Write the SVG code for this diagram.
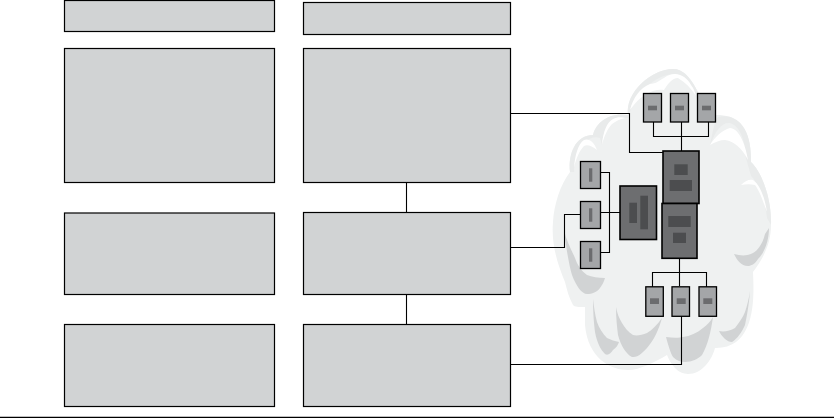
<svg xmlns="http://www.w3.org/2000/svg" width="834" height="418" viewBox="0 0 834 418">
<style>
.b{fill:#d1d3d4;stroke:#000;stroke-width:1.2}
.c{fill:none;stroke:#000;stroke-width:1.1}
.s{fill:#a4a6a8;stroke:#000;stroke-width:1.3}
.l{fill:#6d6e70;stroke:#000;stroke-width:1.6}
.si{fill:#6b6c6e}
.li{fill:#4c4d4f}
.cd{fill:#d1d3d4}
.cw{fill:#fff}
.cr{fill:#e9ebeb}
</style>
<rect width="834" height="418" fill="#fff"/>
<g id="cloud">
<path fill="#eff1f1" d="M628 115C625 92 652 69 673 69C692 69 701 100 708 116C725 113 752 115 751 162C762 172 772 200 771 225C771 245 762 260 753 272C754 295 757 349 715 348C712 360 702 374 688 374C678 374 671 365 667 355C655 362 640 370 628 370C610 370 588 358 585 325L585 307C578 307 575 307 573 305C569 298 567 290 565 282C558 265 551 245 553 222C554 205 560 185 570 172C568 155 575 135 593 135C596 122 610 112 628 115Z"/>
<path class="cr" d="M628 115C625 92 652 69 673 69C692 69 701 100 708 116L701 110C695 92 688 76 674 74C660 74 638 88 630 112Z"/>
<path class="cr" d="M570 172C568 155 575 135 593 135C596 122 610 112 628 115L628 118C615 115 603 125 602 145L600 138C590 134 575 145 574 172Z"/>
<path class="cr" d="M710 145C713 130 715 120 718 117C735 113 752 125 751 162C762 172 772 200 771 225L767 218C765 200 758 183 751 176L746 158C745 140 740 126 730 123C722 122 716 130 710 145Z"/>
<path class="cw" d="M574 168C575 155 578 144 584 140C589 138 594 142 597 150C592 146 587 144 584 146C580 150 576 158 574 168Z"/>
<path class="cw" d="M602 145C603 132 607 122 613 119C617 117 621 117 625 118C620 119 616 121 612 124C608 128 604 136 602 145Z"/>
<path class="cw" d="M630 110C633 98 640 88 650 84C656 84 660 80 664 78C668 75 671 74 675 74C682 74 688 79 691 85C694 89 695 92 696 96C691 88 685 82 678 78C672 78 668 84 664 90C654 88 640 95 630 110Z"/>
<path class="cw" d="M710 145C715 137 722 130 730 128C738 128 745 142 748 160C743 150 735 141 725 140C720 140 715 142 710 145Z"/>
<path class="cw" d="M741 185C745 181 749 179 753 180C760 185 765 198 767 212C763 201 759 190 755 185C751 184 746 184 741 185Z"/>
<path class="cd" d="M769 228C769 240 765 252 758 259C755 264 751 266 748 266C741 266 737 260 734 254C741 256 748 256 753 253C758 250 763 243 765 234Z"/>
<path class="cd" d="M564 230C566 247 569 265 572 275C576 286 582 294 587 294C592 294 597 292 600 288C602 285 604 282 605 278C598 278 592 277 587 275C581 271 577 264 575 258C571 249 566 240 564 230Z"/>
<path class="cd" d="M593 299C593 312 594 324 595 332C597 343 601 350 605 354C608 356 611 353 613 350C616 348 618 345 619 342C615 341 611 340 607 338C603 334 599 328 597 322C595 315 594 307 593 299Z"/>
<path class="cd" d="M616 307C616 318 617 327 618 335C621 346 626 354 632 357C638 358 643 352 647 348C654 340 659 329 662 318C657 325 652 330 647 333C642 335 637 336 633 335C628 332 625 328 622 323C619 318 617 313 616 307Z"/>
<path class="cd" d="M666 337C668 344 670 352 673 357C677 361 681 362 685 362C692 362 698 359 702 355C708 345 711 331 713 317C710 322 707 325 703 328C697 333 690 336 683 337C679 338 673 338 666 337Z"/>
<path class="cd" d="M750 291C749 304 747 316 745 325C742 332 737 339 732 342C727 342 722 337 719 331C724 332 730 331 735 328C739 323 743 317 745 312C747 306 749 298 750 291Z"/>
</g>
<g id="connectors">
<path class="c" d="M511 113.500H629.500V152.500H663M406.500 183V212M511 247.500H564.500V214.500H581M406.500 295V324M511 364.500H681.500V316M653.500 122V136.500H708.500V122M681.500 122V151M601 172.500H609.500V252.500H601M601 212.500H620M679.500 258V286M652.500 287V272.500H706.500V287"/>
</g>
<g id="box1"><rect class="b" x="64.500" y="0.500" width="210" height="31"/></g>
<g id="box2"><rect class="b" x="303.500" y="2.500" width="207" height="32"/></g>
<g id="box3"><rect class="b" x="64.500" y="48.500" width="210" height="134"/></g>
<g id="box4"><rect class="b" x="303.500" y="48.500" width="207" height="134"/></g>
<g id="box5"><rect class="b" x="64.500" y="213" width="210" height="81.500"/></g>
<g id="box6"><rect class="b" x="303.500" y="212.500" width="207" height="82"/></g>
<g id="box7"><rect class="b" x="64.500" y="324.500" width="210" height="82"/></g>
<g id="box8"><rect class="b" x="303.500" y="324.500" width="207" height="82"/></g>
<g id="top-servers">
<g id="t1"><rect class="s" x="643.500" y="93.500" width="18" height="28.500"/><rect class="si" x="648" y="105.700" width="9" height="4.600"/></g>
<g id="t2"><rect class="s" x="670.500" y="93.500" width="18" height="28.500"/><rect class="si" x="675" y="105.700" width="9" height="4.600"/></g>
<g id="t3"><rect class="s" x="697.500" y="93.500" width="18" height="28.500"/><rect class="si" x="702" y="105.700" width="9" height="4.600"/></g>
</g>
<g id="left-servers">
<g id="l1"><rect class="s" x="580.500" y="161.500" width="20" height="27"/><rect class="si" x="589" y="168.300" width="3.300" height="13.400"/></g>
<g id="l2"><rect class="s" x="580.500" y="201.500" width="20" height="27"/><rect class="si" x="589" y="208.300" width="3.300" height="13.400"/></g>
<g id="l3"><rect class="s" x="580.500" y="241.500" width="20" height="27"/><rect class="si" x="589" y="248.300" width="3.300" height="13.400"/></g>
</g>
<g id="mid-left"><rect class="l" x="620" y="186" width="36.500" height="53.500"/><rect class="li" x="629.300" y="202.700" width="7.700" height="20.300"/><rect class="li" x="640.300" y="195.700" width="7.700" height="33.600"/></g>
<g id="mid-top"><rect class="l" x="663" y="151" width="36" height="52.500"/><rect class="li" x="674.300" y="164.300" width="13.400" height="10.700"/><rect class="li" x="669.700" y="180" width="22.300" height="11"/></g>
<g id="mid-bottom"><rect class="l" x="662" y="203.500" width="35" height="54.800"/><rect class="li" x="668.300" y="216" width="22.400" height="11"/><rect class="li" x="673" y="232.700" width="13" height="10.300"/></g>
<g id="bottom-servers">
<g id="b1"><rect class="s" x="645.800" y="286.800" width="17.500" height="29.500"/><rect class="si" x="650" y="298.300" width="9" height="5.700"/></g>
<g id="b2"><rect class="s" x="672" y="286.800" width="17.500" height="29.500"/><rect class="si" x="676.700" y="298.300" width="9" height="5.700"/></g>
<g id="b3"><rect class="s" x="699" y="286.800" width="17.500" height="29.500"/><rect class="si" x="703.300" y="298.300" width="9" height="5.700"/></g>
</g>
<path id="baseline" d="M0 417.300H834" stroke="#000" stroke-width="1.2"/>
</svg>
